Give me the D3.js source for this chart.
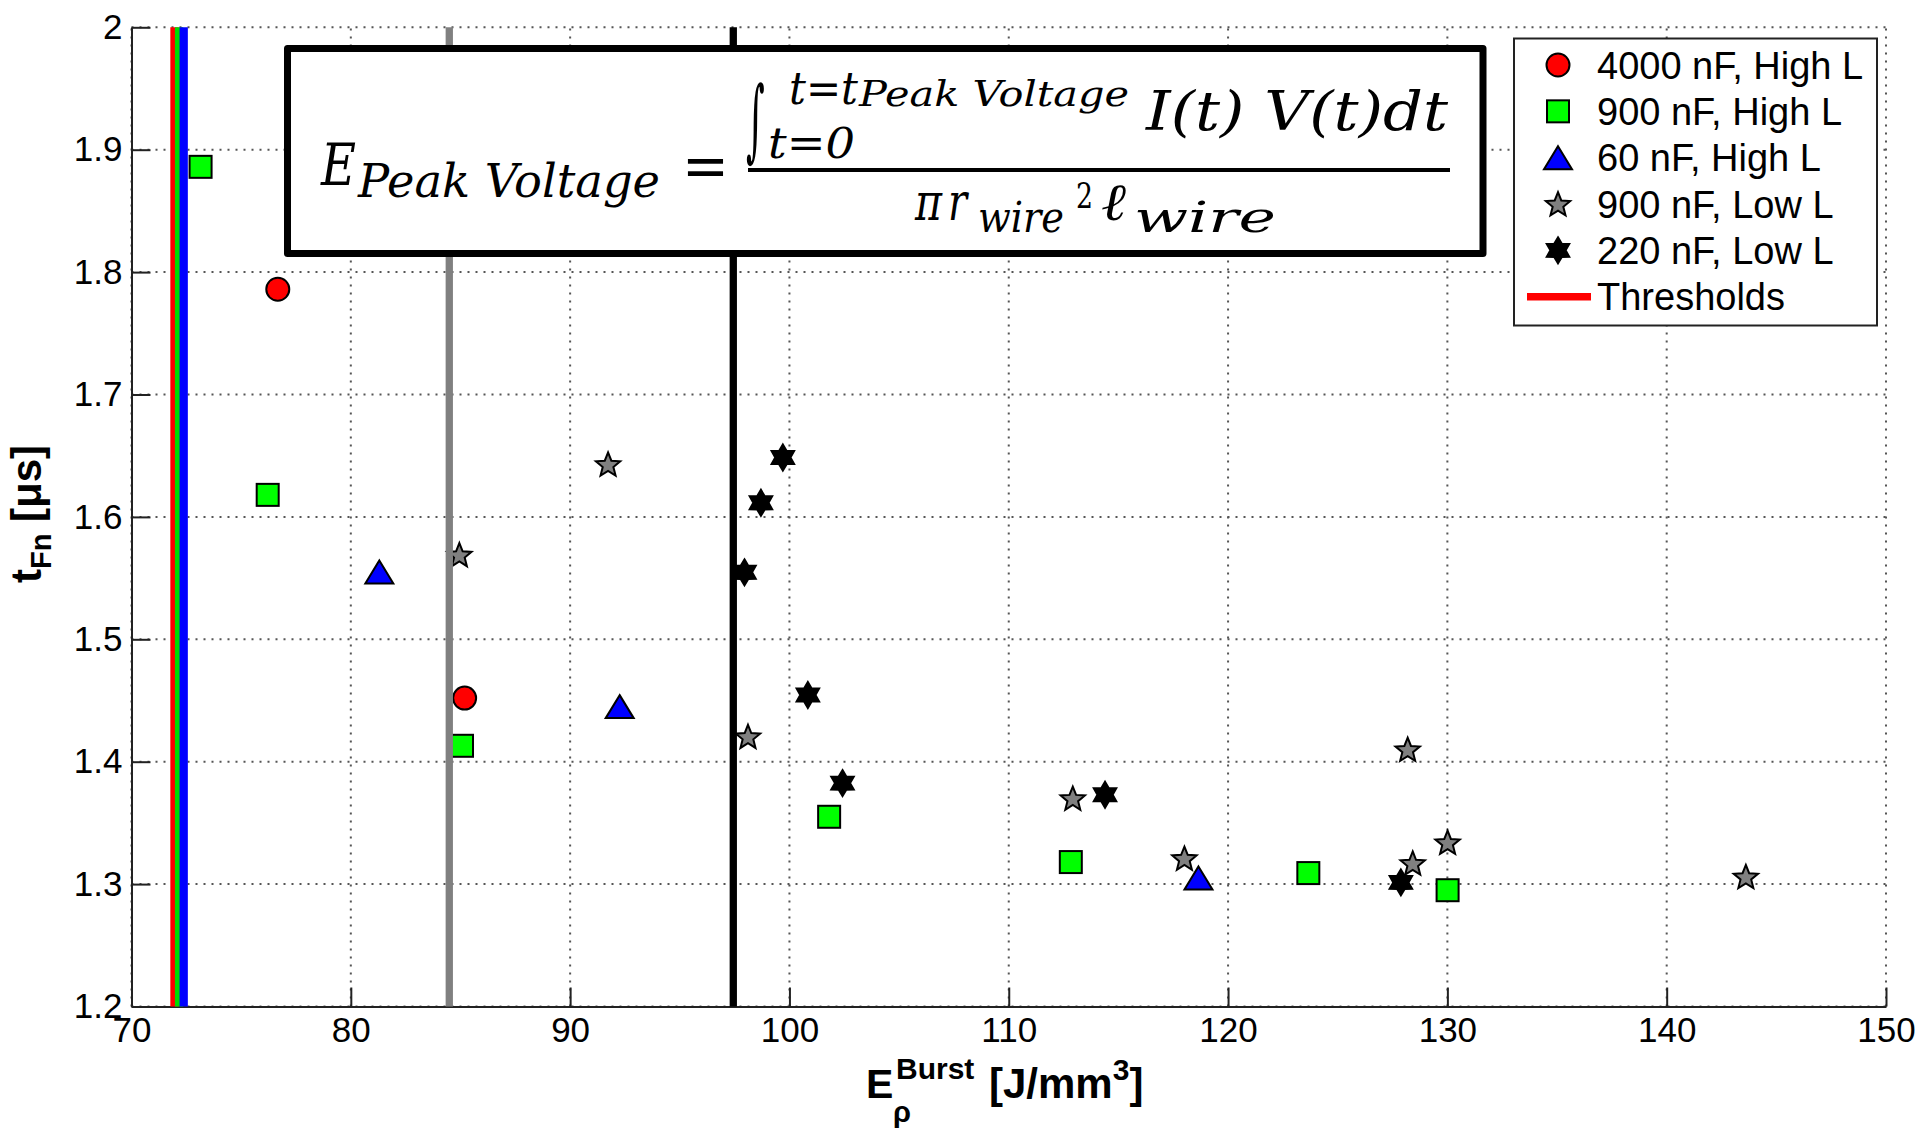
<!DOCTYPE html>
<html>
<head>
<meta charset="utf-8">
<script src="https://cdn.jsdelivr.net/npm/d3@7"></script>
<style>
  body { margin: 0; background: #fff; }
  svg { display: block; }
  text { font-family: "Liberation Sans", Arial, sans-serif; }
</style>
</head>
<body>
<svg id="chart" width="1920" height="1139"></svg>
<script>
// ---- axis ticks ----
const xTicks = [70, 80, 90, 100, 110, 120, 130, 140, 150];
const yTicks = [1.2, 1.3, 1.4, 1.5, 1.6, 1.7, 1.8, 1.9, 2.0];
const yTickLabels = ["1.2", "1.3", "1.4", "1.5", "1.6", "1.7", "1.8", "1.9", "2"];

// ---- measured series: burst energy density (J/mm^3) vs t_Fn (us) ----
const c4000HighE = [76.67, 85.19];
const c4000HighT = [1.786, 1.452];

const c900HighE = [73.15, 76.21, 85.07, 101.81, 112.83, 123.66, 130.01];
const c900HighT = [1.886, 1.618, 1.413, 1.355, 1.318, 1.309, 1.295];

const c60HighE = [81.30, 92.26, 118.65];
const c60HighT = [1.555, 1.445, 1.305];

const c900LowE = [84.95, 91.73, 98.11, 112.92, 118.01, 128.19, 128.42, 130.01, 143.61];
const c900LowT = [1.569, 1.643, 1.4205, 1.370, 1.321, 1.410, 1.317, 1.334, 1.306];

const c220LowE = [97.95, 98.70, 99.70, 100.84, 102.42, 114.39, 127.88];
const c220LowT = [1.5547, 1.6115, 1.6485, 1.4545, 1.3825, 1.373, 1.3014];

// ---- threshold energies (vertical lines) ----
const thresholdE = [71.96, 72.17, 72.38, 84.49, 97.44];
const thresholdColors = ["#ff0000", "#00dd00", "#0000ff", "#808080", "#000000"];

const seriesNames = ["4000 nF, High L", "900 nF, High L", "60 nF, High L", "900 nF, Low L", "220 nF, Low L"];
const thresholdName = "Thresholds";

// ---------------------------------------------------------------
const svg = d3.select("#chart");
svg.append("rect").attr("width", 1920).attr("height", 1139).attr("fill", "#fff");

const x = d3.scaleLinear().domain([70, 150]).range([131.5, 1886]);
const y = d3.scaleLinear().domain([1.2, 2.0]).range([1006.5, 27.3]);

// marker shapes
function starPath(points, R, r) {
  const pts = [];
  for (let i = 0; i < points * 2; i++) {
    const a = -Math.PI / 2 + i * Math.PI / points;
    const rad = i % 2 === 0 ? R : r;
    pts.push([rad * Math.cos(a), rad * Math.sin(a)]);
  }
  return "M" + pts.map(p => p[0].toFixed(2) + "," + p[1].toFixed(2)).join("L") + "Z";
}
const markerDefs = [
  { kind: "circle", fill: "#ff0000" },
  { kind: "square", fill: "#00ff00" },
  { kind: "triangle", fill: "#0000ff" },
  { kind: "pentagram", fill: "#808080" },
  { kind: "hexagram", fill: "#000000" }
];
function drawMarker(g, kind, fill) {
  let el;
  if (kind === "circle") el = g.append("circle").attr("r", 11.5);
  else if (kind === "square") el = g.append("rect").attr("x", -11).attr("y", -11).attr("width", 22).attr("height", 22);
  else if (kind === "triangle") el = g.append("path").attr("d", "M0,-11.5L14,11.5L-14,11.5Z");
  else if (kind === "pentagram") el = g.append("path").attr("d", starPath(5, 12.8, 5.6)).attr("transform", "translate(0,1)");
  else el = g.append("path").attr("d", starPath(6, 13, 7.6));
  el.attr("stroke", "#000").attr("stroke-width", 2).attr("fill", fill).attr("stroke-linejoin", "miter");
}

// ---- grid ----
const grid = svg.append("g");
grid.selectAll("line.gx").data(xTicks).join("line")
  .attr("x1", d => x(d)).attr("x2", d => x(d))
  .attr("y1", y(1.2)).attr("y2", y(2.0))
  .attr("stroke", "#555").attr("stroke-width", 2).attr("stroke-dasharray", "2,6");
grid.selectAll("line.gy").data(yTicks).join("line")
  .attr("y1", d => y(d)).attr("y2", d => y(d))
  .attr("x1", x(70)).attr("x2", x(150))
  .attr("stroke", "#555").attr("stroke-width", 2).attr("stroke-dasharray", "2,6");

// ---- axes ----
const fontSize = 35;
const xAxis = d3.axisBottom(x).tickValues(xTicks).tickSizeInner(-19).tickSizeOuter(0).tickPadding(11)
  .tickFormat(d3.format("d"));
const yAxis = d3.axisLeft(y).tickValues(yTicks).tickSizeInner(-19).tickSizeOuter(0).tickPadding(9)
  .tickFormat((d, i) => yTickLabels[i]);

const gx = svg.append("g").attr("transform", `translate(0,${y(1.2)})`).call(xAxis);
const gy = svg.append("g").attr("transform", `translate(${x(70)},0)`).call(yAxis);
[gx, gy].forEach(g => {
  g.select(".domain").attr("stroke", "#222").attr("stroke-width", 2);
  g.selectAll(".tick line").attr("stroke", "#222").attr("stroke-width", 2);
  g.selectAll(".tick text").attr("fill", "#000")
    .style("font-family", "'Liberation Sans', Arial, sans-serif").style("font-size", fontSize + "px");
});

// ---- data points ----
const seriesE = [c4000HighE, c900HighE, c60HighE, c900LowE, c220LowE];
const seriesT = [c4000HighT, c900HighT, c60HighT, c900LowT, c220LowT];
const pts = svg.append("g");
seriesE.forEach((es, si) => {
  es.forEach((e, i) => {
    const g = pts.append("g").attr("transform", `translate(${x(e)},${y(seriesT[si][i])})`);
    drawMarker(g, markerDefs[si].kind, markerDefs[si].fill);
  });
});

// ---- threshold lines ----
svg.append("g").selectAll("line").data(thresholdE).join("line")
  .attr("x1", d => x(d)).attr("x2", d => x(d))
  .attr("y1", y(2.0)).attr("y2", y(1.2))
  .attr("stroke", (d, i) => thresholdColors[i])
  .attr("stroke-width", (d, i) => i < 3 ? 8.3 : 7.3);

// ---- formula box ----
const fb = svg.append("g");
fb.append("rect").attr("x", 287.5).attr("y", 48.5).attr("width", 1195.5).attr("height", 205)
  .attr("fill", "#fff").attr("stroke", "#000").attr("stroke-width", 7).attr("stroke-linejoin", "round");
const serif = "'DejaVu Serif', 'Liberation Serif', serif";
function ft(str, xp, yp, size, len, italic = true) {
  const t = fb.append("text").attr("x", xp).attr("y", yp).text(str)
    .style("font-family", serif).style("font-size", size + "px")
    .style("font-style", italic ? "italic" : "normal").attr("fill", "#000");
  if (len) t.attr("textLength", len).attr("lengthAdjust", "spacingAndGlyphs");
  return t;
}
ft("E", 321, 185, 58, 35);
ft("Peak Voltage", 358, 197, 46, 302);
ft("=", 682, 187, 62, 47, false);
// tall, slim integral sign
fb.append("text").attr("transform", "translate(746,150) scale(0.45,1.12)").text("\u222B")
  .style("font-family", serif).style("font-size", "80px").attr("fill", "#000");
ft("t=t", 789, 104, 44, 69);
ft("Peak Voltage", 859, 106, 36, 270);
ft("t=0", 768, 158, 43, 87);
ft("I(t) V(t)dt", 1146, 130, 54, 302);
fb.append("line").attr("x1", 748).attr("x2", 1450).attr("y1", 170).attr("y2", 170)
  .attr("stroke", "#000").attr("stroke-width", 4);
ft("\u03C0", 915, 220, 52, 27);
ft("r", 948, 220, 52, 19);
ft("wire", 978, 232, 42, 86);
ft("2", 1076, 208, 36, 17, false);
ft("\u2113", 1101, 220, 52, 25);
ft("wire", 1134, 232, 42, 142);

// ---- legend ----
const lg = svg.append("g");
lg.append("rect").attr("x", 1514).attr("y", 38.5).attr("width", 363).attr("height", 287)
  .attr("fill", "#fff").attr("stroke", "#222").attr("stroke-width", 2);
const rowY = d3.scaleLinear().domain([0, 5]).range([65, 296.7]);
seriesNames.forEach((name, i) => {
  const g = lg.append("g").attr("transform", `translate(1558,${rowY(i)})`);
  drawMarker(g, markerDefs[i].kind, markerDefs[i].fill);
  lg.append("text").attr("x", 1597).attr("y", rowY(i) + 13.5).text(name)
    .style("font-size", "38px").attr("fill", "#000");
});
lg.append("line").attr("x1", 1527).attr("x2", 1591).attr("y1", rowY(5)).attr("y2", rowY(5))
  .attr("stroke", thresholdColors[0]).attr("stroke-width", 7.5);
lg.append("text").attr("x", 1597).attr("y", rowY(5) + 13.5).text(thresholdName)
  .style("font-size", "38px").attr("fill", "#000");

// ---- axis titles ----
const yl = svg.append("text").attr("transform", "translate(41,514) rotate(-90)")
  .attr("text-anchor", "middle").style("font-size", "42px").style("font-weight", "bold").attr("fill", "#000");
yl.append("tspan").text("t");
yl.append("tspan").text("Fn").style("font-size", "29px").attr("dy", 10);
yl.append("tspan").text(" [\u03BCs]").attr("dy", -10);

const xl = svg.append("g").attr("fill", "#000").style("font-weight", "bold");
xl.append("text").attr("x", 866).attr("y", 1098).text("E").style("font-size", "41px");
xl.append("text").attr("x", 893).attr("y", 1122).text("\u03C1").style("font-size", "29px");
xl.append("text").attr("x", 896).attr("y", 1079).text("Burst").style("font-size", "30px");
const xr = xl.append("text").attr("x", 989).attr("y", 1098).style("font-size", "42px");
xr.append("tspan").text("[J/mm");
xr.append("tspan").text("3").style("font-size", "30px").attr("dy", -18);
xr.append("tspan").text("]").attr("dy", 18);
</script>
</body>
</html>
